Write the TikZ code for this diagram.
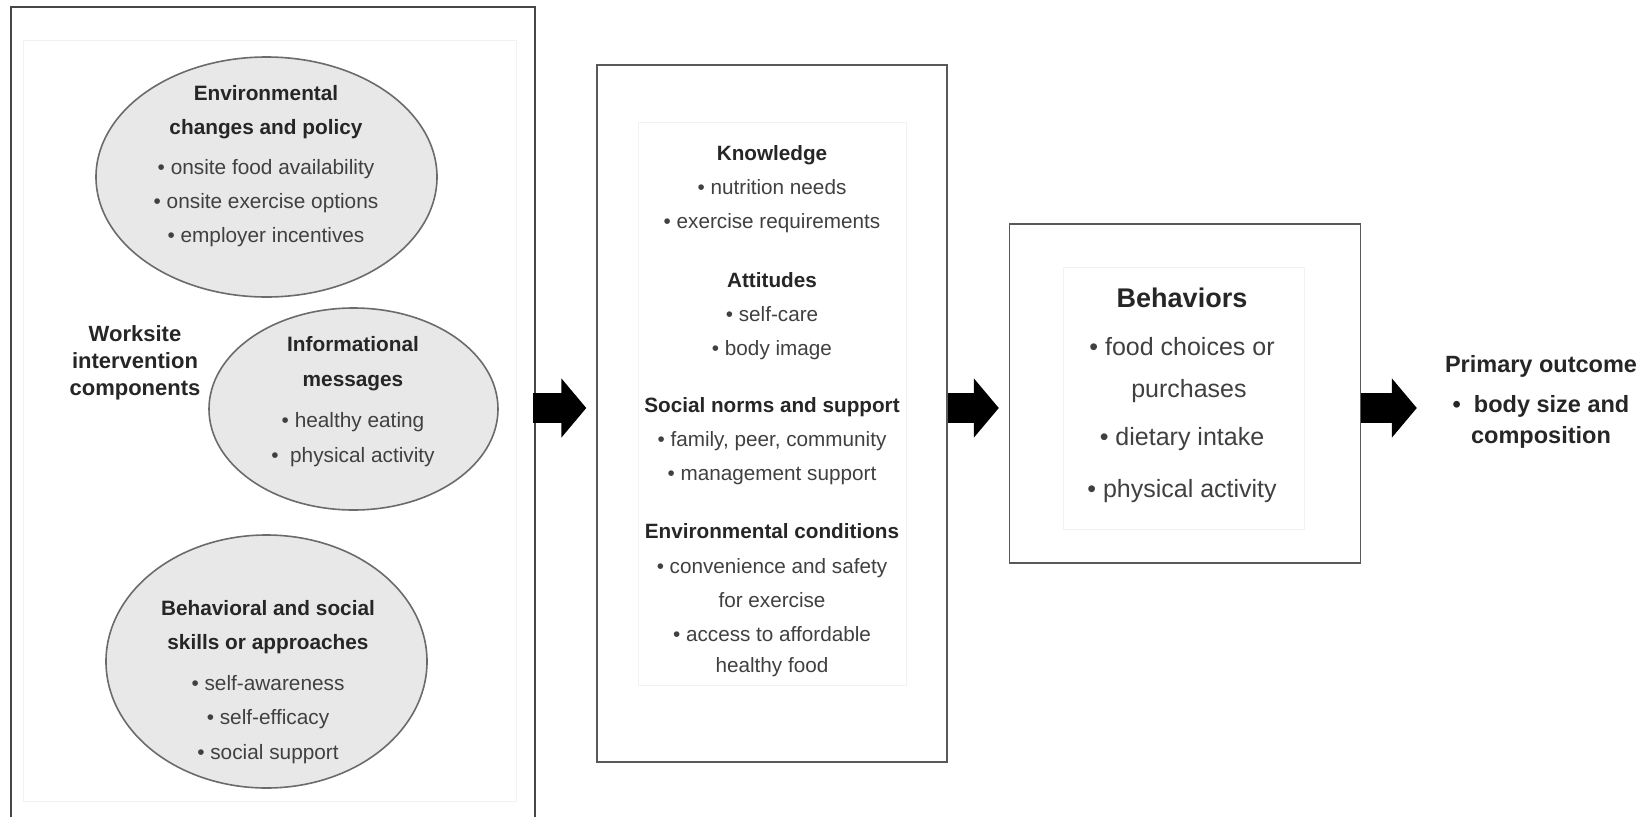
\documentclass[tikz,border=0pt]{standalone}
\usepackage{fontspec}
\setmainfont{Liberation Sans}
\usetikzlibrary{arrows.meta,shapes.geometric}
\newcommand\hdr[1]{{\bfseries\color{black!85}#1}}
\begin{document}
\begin{tikzpicture}[x=1pt,y=-1pt,
  ell/.style={ellipse, draw=black!58, line width=1.6pt, fill=black!9, inner sep=0pt},
  panel/.style={draw=black!72, line width=1.6pt},
  boxstyle/.style={rectangle, draw=black!65, line width=1.4pt, inner sep=0pt},
  faint/.style={draw=black!5, line width=1pt},
  txt/.style={align=center, inner sep=0pt, anchor=north, text=black!75, font=\fontsize{20.8}{34}\selectfont},
  bigarrow/.style={line width=30pt, -{Triangle[length=25pt,width=58pt]}, draw=black},
]
\useasboundingbox (0,0) rectangle (1652,817);
\fill[white] (0,0) rectangle (1652,817);

% left panel
\draw[faint] (23,40) rectangle (516,801);
\draw[panel] (11,817) -- (11,7) -- (535,7) -- (535,817);

\node[ell, minimum width=341, minimum height=240] (e1) at (266.5,177) {};
\node[ell, minimum width=289, minimum height=202] (e2) at (353.5,409) {};
\node[ell, minimum width=321, minimum height=253] (e3) at (266.5,661.5) {};

\node[txt] (t1) at (266,85) {\hdr{Environmental}\\\hdr{changes and policy}\\[6pt]• onsite food availability\\• onsite exercise options\\• employer incentives};
\node[txt, font=\fontsize{20.8}{35}\selectfont] (t2) at (353,336) {\hdr{Informational}\\\hdr{messages}\\[6pt]• healthy eating\\•\ \ physical activity};
\node[txt, font=\fontsize{20.8}{34.5}\selectfont] (t3) at (268,600) {\hdr{Behavioral and social}\\\hdr{skills or approaches}\\[6pt]• self-awareness\\• self-efficacy\\• social support};
\node[txt, font=\fontsize{22}{27}\selectfont] (ws) at (135,325) {\hdr{Worksite}\\\hdr{intervention}\\\hdr{components}};

% middle box
\node[boxstyle, minimum width=350, minimum height=697] (mid) at (772,413.5) {};
\draw[faint] (638,122) rectangle (906,685);
\node[txt, font=\fontsize{20.7}{34.3}\selectfont] (t4) at (772,145) {\hdr{Knowledge}\\• nutrition needs\\• exercise requirements\\[24pt]\hdr{Attitudes}\\• self-care\\• body image\\[22pt]\hdr{Social norms and support}\\• family, peer, community\\• management support\\[24pt]\hdr{Environmental conditions}\\• convenience and safety\\for exercise\\• access to affordable\\[-4pt]healthy food};

% behaviors box
\node[boxstyle, minimum width=351, minimum height=339] (beh) at (1185,393.5) {};
\draw[faint] (1063,267) rectangle (1304,529);
\node[txt, font=\fontsize{25}{42}\selectfont] (t5) at (1182,288) {{\fontsize{27}{42}\selectfont\hdr{Behaviors}}\\[6pt]• food choices or\\\ \ purchases\\[6pt]• dietary intake\\[10pt]• physical activity};

% outcome
\node[txt, font=\fontsize{23.5}{31}\selectfont\bfseries, text=black!85] (out) at (1541,355) {Primary outcome\\[9pt]•\ \ body size and\\composition};

% arrows
\coordinate (ay) at (0,408);
\coordinate (a1s) at (533,408);
\draw[bigarrow, shorten >=10pt] (a1s) -- (mid.west |- ay);
\draw[bigarrow, shorten >=10pt] (mid.east |- ay) -- (beh.west |- ay);
\draw[bigarrow, shorten >=28pt] (beh.east |- ay) -- (out.west |- ay);
\end{tikzpicture}
\end{document}
